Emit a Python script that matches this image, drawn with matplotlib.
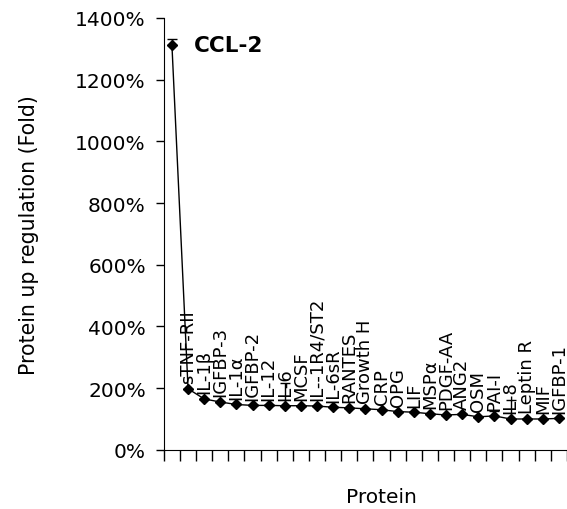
import matplotlib.pyplot as plt
import numpy as np

plt.rcParams['font.family'] = ['DejaVu Sans']

proteins = ['CCL-2', 'sTNF-RII', 'IL-1β', 'IGFBP-3', 'IL-1α', 'IGFBP-2', 'IL-12',
            'IL-6', 'MCSF', 'IL--1R4/ST2', 'IL-6sR', 'RANTES', 'Growth H', 'CRP',
            'OPG', 'LIF', 'MSPα', 'PDGF-AA', 'ANG2', 'OSM', 'PAI-I', 'IL-8',
            'Leptin R', 'MIF', 'IGFBP-1']
fold = [1312, 198, 165, 155, 147, 144, 144, 143, 143, 142, 138, 136, 133, 130,
        124, 122, 117, 113, 115, 107, 110, 100, 100, 100, 102]
err_up = [20, 0, 0, 0, 0, 0, 0, 75, 0, 0, 0, 0, 0, 0,
          0, 0, 0, 0, 0, 0, 16, 62, 0, 0, 0]

x = np.arange(len(proteins))

fig = plt.figure(figsize=(5.67, 5.1), dpi=100)
ax = fig.add_axes([0.289, 0.116, 0.711, 0.847])

ax.errorbar(x, fold, yerr=[np.zeros(len(fold)), err_up], color='black',
            marker='D', markersize=5, linewidth=1.0, elinewidth=1.0,
            capsize=3.5, capthick=1.0)

# first label sits to the side in bold, the rest stand above their points
ax.text(x[0] + 1.35, fold[0], proteins[0], fontsize=15.5, fontweight='bold',
        va='center', ha='left')
for i in range(1, len(proteins)):
    ax.annotate(proteins[i], (x[i], fold[i]), xytext=(0, 4),
                textcoords='offset points', rotation=90, ha='center',
                va='bottom', fontsize=13)

ax.set_xlim(-0.5, len(proteins) - 0.5)
ax.set_ylim(0, 1400)
ax.set_xticks(np.arange(-0.5, len(proteins), 1))
ax.set_xticklabels([])
ax.set_yticks(np.arange(0, 1401, 200))
ax.set_yticklabels([f'{v}%' for v in range(0, 1401, 200)], fontsize=14.5)
ax.tick_params(axis='y', direction='out', length=6, width=1.0, pad=7)
ax.tick_params(axis='x', direction='out', length=8, width=1.0)

ax.spines['top'].set_visible(False)
ax.spines['right'].set_visible(False)

ax.set_xlabel('Protein', fontsize=14.5, va='center')
ax.xaxis.set_label_coords(0.54, -0.108)
ax.set_ylabel('Protein up regulation (Fold)', fontsize=14.8, va='center')
ax.yaxis.set_label_coords(-0.335, 0.5)

fig.savefig('out.png', dpi=100)
